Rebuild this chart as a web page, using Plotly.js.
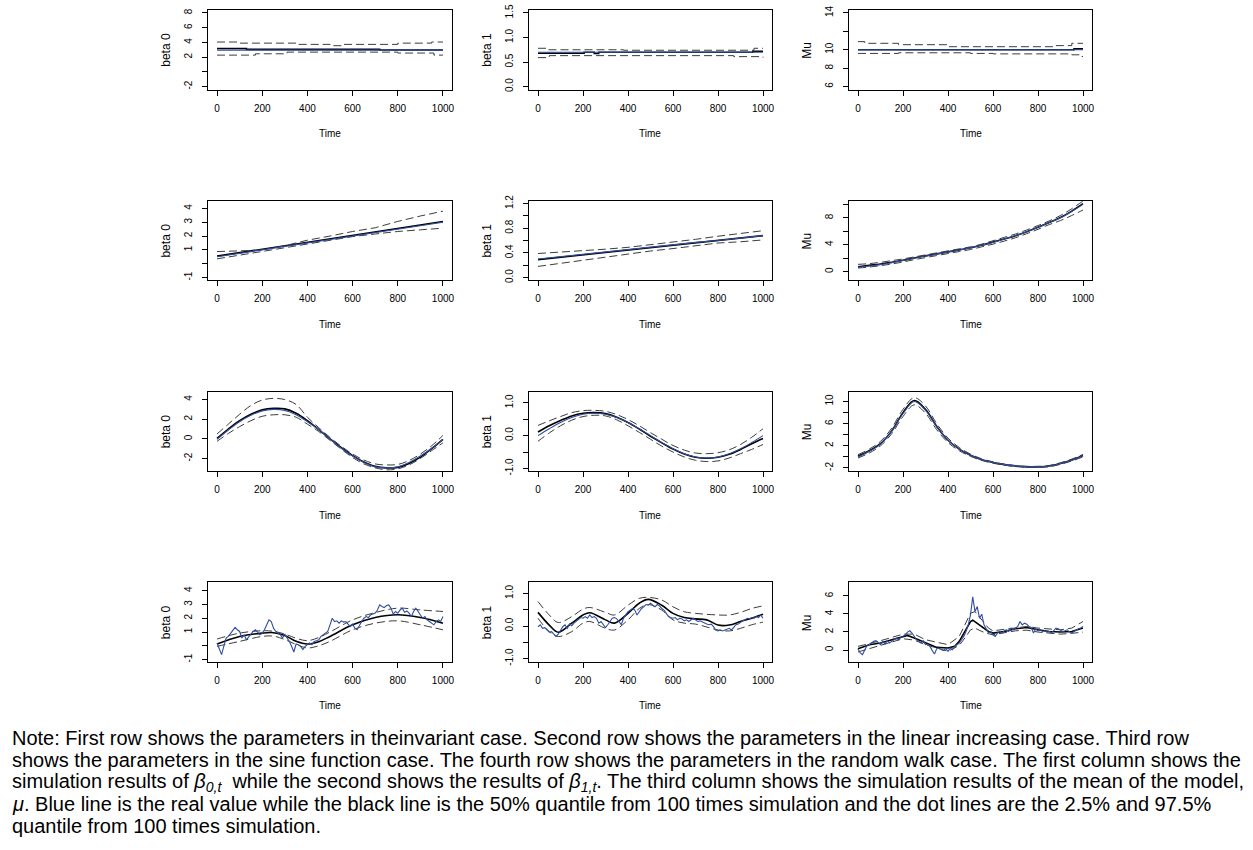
<!DOCTYPE html>
<html><head><meta charset="utf-8">
<script src="https://cdn.plot.ly/plotly-3.0.1.min.js"></script>
<style>html,body{margin:0;padding:0;background:#fff}#chart{width:1253px;height:850px}</style>
</head><body><div id="chart"></div>
<script>
// ---------- time grids ----------
const T11 = [0,100,200,300,400,500,600,700,800,900,1000];
const T21 = [0,50,100,150,200,250,300,350,400,450,500,550,600,650,700,750,800,850,900,950,1000];
const T101 = [0,10,20,30,40,50,60,70,80,90,100,110,120,130,140,150,160,170,180,190,200,210,220,230,240,250,260,270,280,290,300,310,320,330,340,350,360,370,380,390,400,410,420,430,440,450,460,470,480,490,500,510,520,530,540,550,560,570,580,590,600,610,620,630,640,650,660,670,680,690,700,710,720,730,740,750,760,770,780,790,800,810,820,830,840,850,860,870,880,890,900,910,920,930,940,950,960,970,980,990,1000];
const xTicks = [0,200,400,600,800,1000];

// ---------- Row 1: invariant case ----------
const b0inv_true_t = [0,1000];            const b0inv_true = [2.95,2.95];
const b0inv_med_t = [0,130,720,1000];     const b0inv_med = [3.18,3.05,2.97,2.97];
const b0inv_hi_t = [0,90,350,500,560,800,950,1000]; const b0inv_hi = [4.05,3.9,3.73,3.55,3.73,3.9,4.05,4.05];
const b0inv_lo_t = [0,170,310,800,960,1000];         const b0inv_lo = [2.27,2.45,2.68,2.55,2.27,2.27];

const b1inv_true_t = [0,1000];            const b1inv_true = [0.70,0.70];
const b1inv_med_t = [0,205,250,270,955,1000]; const b1inv_med = [0.68,0.70,0.675,0.70,0.72,0.72];
const b1inv_hi_t = [0,40,380,960,1000];   const b1inv_hi = [0.78,0.75,0.74,0.78,0.78];
const b1inv_lo_t = [0,50,870,1000];       const b1inv_lo = [0.59,0.63,0.61,0.59];

const muinv_true_t = [0,1000];            const muinv_true = [10.0,10.0];
const muinv_med_t = [0,960,1000];         const muinv_med = [10.0,10.1,10.1];
const muinv_hi_t = [0,30,180,400,880,950,1000]; const muinv_hi = [10.88,10.7,10.55,10.33,10.45,10.7,10.7];
const muinv_lo_t = [0,180,500,600,950,990,1000]; const muinv_lo = [9.6,9.67,9.6,9.55,9.45,9.27,9.27];

// ---------- Row 2: linear increasing case ----------
const b0lin_true = [0.5,0.75,1.0,1.25,1.5,1.75,2.0,2.25,2.5,2.75,3.0];
const b0lin_med  = [0.55,0.8,1.03,1.28,1.53,1.78,2.03,2.28,2.55,2.8,3.05];
const b0lin_hi   = [0.88,0.93,0.98,1.3,1.7,2.0,2.33,2.6,3.06,3.45,3.8];
const b0lin_lo   = [0.35,0.62,0.87,1.15,1.46,1.72,1.96,2.15,2.33,2.45,2.57];

const b1lin_true = [0.3,0.34,0.38,0.41,0.45,0.49,0.53,0.57,0.6,0.64,0.68];
const b1lin_med  = [0.29,0.33,0.37,0.41,0.45,0.49,0.53,0.56,0.6,0.64,0.68];
const b1lin_hi   = [0.39,0.41,0.44,0.46,0.49,0.53,0.57,0.62,0.67,0.71,0.76];
const b1lin_lo   = [0.18,0.23,0.28,0.33,0.39,0.43,0.47,0.51,0.56,0.58,0.61];

const mulin_true = [0.66,0.85,1.06,1.35,1.67,2.0,2.33,2.62,2.94,3.22,3.54,3.93,4.35,4.85,5.37,5.95,6.6,7.3,8.0,8.95,10.0];
const mulin_med  = [0.75,0.95,1.15,1.4,1.7,2.05,2.35,2.65,2.95,3.25,3.55,3.95,4.4,4.85,5.35,5.95,6.6,7.3,8.05,9.0,10.1];
const mulin_hi   = [1.1,1.2,1.4,1.65,1.9,2.2,2.5,2.8,3.1,3.4,3.7,4.1,4.6,5.1,5.6,6.2,6.85,7.55,8.35,9.35,10.5];
const mulin_lo   = [0.55,0.7,0.9,1.15,1.45,1.8,2.1,2.4,2.7,3.0,3.3,3.7,4.1,4.55,5.05,5.65,6.3,7.0,7.6,8.35,9.16];

// ---------- Row 3: sine function case ----------
const b0sin_true = [-0.05,0.9,1.75,2.4,2.85,3.0,2.9,2.45,1.75,0.95,0.0,-0.95,-1.75,-2.4,-2.85,-2.95,-2.85,-2.4,-1.75,-0.95,-0.05];
const b0sin_med  = [0.05,1.0,1.85,2.5,2.95,3.1,3.05,2.6,1.85,0.95,0.0,-0.9,-1.7,-2.35,-2.8,-2.95,-2.9,-2.5,-1.85,-1.0,-0.05];
const b0sin_hi   = [0.5,1.5,2.5,3.4,3.95,4.12,4.0,3.5,2.2,1.15,0.15,-0.75,-1.55,-2.15,-2.55,-2.65,-2.6,-2.2,-1.55,-0.7,0.35];
const b0sin_lo   = [-0.25,0.55,1.25,1.85,2.3,2.45,2.45,2.2,1.5,0.75,-0.15,-1.05,-1.9,-2.55,-2.95,-3.15,-3.05,-2.65,-2.0,-1.2,-0.4];

const b1sin_true = [0.0,0.21,0.4,0.55,0.65,0.68,0.65,0.55,0.4,0.21,0.0,-0.21,-0.4,-0.55,-0.65,-0.68,-0.65,-0.55,-0.4,-0.21,0.0];
const b1sin_med  = [0.11,0.3,0.46,0.6,0.68,0.7,0.67,0.56,0.4,0.2,-0.02,-0.22,-0.41,-0.56,-0.66,-0.69,-0.66,-0.57,-0.42,-0.25,-0.09];
const b1sin_hi   = [0.31,0.45,0.58,0.7,0.76,0.77,0.74,0.64,0.49,0.3,0.09,-0.11,-0.3,-0.44,-0.53,-0.55,-0.52,-0.43,-0.27,-0.05,0.21];
const b1sin_lo   = [-0.17,0.08,0.3,0.47,0.58,0.62,0.6,0.48,0.3,0.1,-0.11,-0.32,-0.5,-0.65,-0.75,-0.79,-0.77,-0.68,-0.55,-0.42,-0.27];

const musin_true = [0.0,1.0,2.3,4.6,7.8,10.0,8.4,5.4,3.0,1.4,0.3,-0.5,-1.0,-1.4,-1.6,-1.8,-1.8,-1.7,-1.2,-0.6,0.2];
const musin_med  = [0.1,1.1,2.4,4.7,8.0,10.2,8.6,5.5,3.0,1.4,0.3,-0.5,-1.0,-1.4,-1.65,-1.8,-1.8,-1.65,-1.2,-0.55,0.25];
const musin_hi   = [0.4,1.4,2.8,5.2,8.6,10.7,9.2,6.0,3.4,1.7,0.5,-0.35,-0.9,-1.3,-1.55,-1.7,-1.7,-1.55,-1.05,-0.4,0.45];
const musin_lo   = [-0.2,0.7,2.0,4.2,7.3,9.4,7.9,4.9,2.6,1.1,0.1,-0.65,-1.15,-1.5,-1.75,-1.9,-1.9,-1.8,-1.35,-0.75,0.0];

// ---------- Row 4: random walk case ----------
const b0rw_true = [0.2,-0.28,-0.64,-0.04,0.56,0.68,0.92,1.09,1.33,1.16,
  1.04,0.56,0.8,0.44,0.68,0.85,1.04,1.16,1.0,0.8,
  0.92,1.16,1.52,1.88,1.76,1.28,1.04,0.92,0.8,0.56,
  0.85,0.56,0.32,-0.04,-0.45,0.13,0.08,-0.04,-0.28,-0.04,
  0.08,0.2,0.08,0.32,0.37,0.44,0.68,0.8,0.92,1.04,
  1.52,2.0,1.76,1.81,1.64,1.81,1.72,1.76,1.57,1.4,
  1.57,1.28,1.16,1.52,1.76,2.0,2.12,2.05,2.25,2.3,
  2.37,2.6,2.97,2.85,2.77,2.92,2.97,2.73,2.3,2.49,
  2.37,2.6,2.73,2.44,2.53,2.37,2.12,2.49,2.73,2.49,
  2.25,2.0,2.12,1.88,1.76,1.64,1.52,1.76,1.88,1.76,
  2.12];
const b0rw_q_t = [0,100,200,250,300,350,400,450,500,600,700,800,900,1000];
const b0rw_med = [0.13,0.68,0.92,0.95,0.75,0.32,0.13,0.3,0.68,1.52,2.05,2.25,2.05,1.64];
const b0rw_hi  = [0.49,0.92,1.09,1.05,0.85,0.55,0.37,0.6,1.0,1.88,2.41,2.73,2.6,2.49];
const b0rw_lo  = [-0.04,0.32,0.68,0.7,0.45,0.1,-0.16,0.0,0.32,1.16,1.64,1.81,1.52,1.16];

const b1rw_true = [-0.02,0.04,-0.07,-0.05,-0.12,-0.19,-0.17,-0.25,-0.32,-0.25,
  -0.12,-0.02,0.04,-0.07,0.06,0.01,0.09,0.14,0.19,0.26,
  0.24,0.29,0.24,0.34,0.26,0.29,0.24,0.09,0.14,0.04,
  -0.05,0.04,0.14,0.24,0.26,0.22,0.14,0.04,0.24,0.36,
  0.44,0.49,0.54,0.49,0.34,0.44,0.54,0.59,0.66,0.64,
  0.7,0.64,0.59,0.66,0.62,0.54,0.49,0.39,0.29,0.26,
  0.24,0.26,0.19,0.24,0.22,0.16,0.19,0.14,0.19,0.24,
  0.19,0.14,0.16,0.12,0.09,0.06,0.04,0.06,-0.02,-0.12,
  -0.15,-0.12,-0.15,-0.12,-0.09,-0.07,-0.12,-0.05,0.04,0.06,
  0.12,0.16,0.19,0.24,0.22,0.26,0.24,0.29,0.26,0.34,
  0.24];
const b1rw_med_t = [0,50,90,150,200,230,300,340,400,450,490,550,600,650,700,750,800,850,900,950,1000];
const b1rw_med   = [0.42,0.03,-0.19,0.09,0.34,0.41,0.19,0.09,0.39,0.7,0.82,0.64,0.39,0.26,0.22,0.19,0.03,0.03,0.14,0.24,0.36];
const b1rw_q_t = [0,50,90,150,200,230,300,340,400,450,490,550,600,650,700,800,850,900,950,1000];
const b1rw_hi  = [0.75,0.34,0.11,0.29,0.52,0.57,0.42,0.34,0.64,0.85,0.88,0.8,0.59,0.44,0.39,0.34,0.34,0.42,0.54,0.62];
const b1rw_lo  = [0.24,-0.17,-0.32,-0.17,0.09,0.14,-0.07,-0.12,0.19,0.54,0.66,0.49,0.19,0.09,0.06,-0.12,-0.15,-0.07,0.04,0.12];

const murw_true = [0.15,-0.33,-0.51,0.04,0.51,0.59,0.77,0.96,1.03,0.77,
  0.59,0.96,0.66,1.03,0.77,0.96,1.14,1.32,1.14,1.4,
  1.51,1.69,1.99,2.13,1.88,1.51,1.14,0.96,0.77,1.03,
  0.59,0.66,0.4,-0.07,-0.44,0.15,0.22,0.04,-0.07,0.15,
  -0.15,0.22,0.04,0.4,0.59,0.77,1.14,1.51,2.06,2.79,
  3.9,5.9,4.26,4.82,3.53,3.97,2.79,2.24,1.88,2.06,
  1.69,1.51,1.88,2.06,1.88,2.13,2.24,2.06,2.43,2.24,
  2.43,2.61,3.16,2.79,2.98,2.87,2.61,2.5,1.88,2.35,
  2.13,2.24,2.06,2.13,1.99,2.06,1.88,2.13,2.43,2.35,
  2.24,2.06,2.13,2.24,1.99,1.88,2.06,2.24,2.35,2.43,
  2.61];
const murw_med_t = [0,50,100,150,200,220,250,300,350,400,430,450,480,500,510,530,550,580,600,650,700,750,800,850,900,950,1000];
const murw_med   = [0.15,0.59,0.77,1.14,1.51,1.62,1.32,0.77,0.29,0.22,0.4,0.96,2.24,3.16,3.31,2.98,2.61,2.06,1.88,2.06,2.35,2.5,2.24,2.06,1.99,2.06,2.43];
const murw_q_t = [0,100,200,250,300,400,450,480,500,520,550,580,600,700,750,800,900,950,1000];
const murw_hi  = [0.4,1.03,1.76,1.76,1.14,0.59,1.51,3.16,4.08,4.26,3.35,2.43,2.13,2.5,2.61,2.43,2.24,2.43,3.16];
const murw_lo  = [-0.22,0.51,1.25,1.1,0.59,-0.15,0.51,1.5,2.24,2.43,2.06,1.8,1.69,2.13,2.2,1.99,1.76,1.85,1.99];

// ---------- axis labels / ticks ----------
const yLabels = ['beta 0','beta 1','Mu'];
const xLabel = 'Time';
const noteLines = [
  'Note: First row shows the parameters in theinvariant case. Second row shows the parameters in the linear increasing case. Third row',
  'shows the parameters in the sine function case. The fourth row shows the parameters in the random walk case. The first column shows the',
  'simulation results of <i>β</i><sub><i>0,t</i></sub>  while the second shows the results of <i>β</i><sub><i>1,t</i></sub>. The third column shows the simulation results of the mean of the model,',
  '<i>μ</i>. Blue line is the real value while the black line is the 50% quantile from 100 times simulation and the dot lines are the 2.5% and 97.5%',
  'quantile from 100 times simulation.'
];

// ---------- panel table (built from the arrays above) ----------
// tv/tt: labelled ticks; mt: ticks drawn without a label
const panels = [
  {yr:[-2.4,8.4], tv:[-2,2,4,6,8], tt:['-2','2','4','6','8'], mt:[0], shape:'hv',
   tru:[b0inv_true_t,b0inv_true], med:[b0inv_med_t,b0inv_med], hi:[b0inv_hi_t,b0inv_hi], lo:[b0inv_lo_t,b0inv_lo]},
  {yr:[-0.06,1.56], tv:[0,0.5,1,1.5], tt:['0.0','0.5','1.0','1.5'], mt:[], shape:'hv',
   tru:[b1inv_true_t,b1inv_true], med:[b1inv_med_t,b1inv_med], hi:[b1inv_hi_t,b1inv_hi], lo:[b1inv_lo_t,b1inv_lo]},
  {yr:[5.68,14.32], tv:[6,8,10,14], tt:['6','8','10','14'], mt:[12], shape:'hv',
   tru:[muinv_true_t,muinv_true], med:[muinv_med_t,muinv_med], hi:[muinv_hi_t,muinv_hi], lo:[muinv_lo_t,muinv_lo]},
  {yr:[-1.2,4.55], tv:[-1,1,2,3,4], tt:['-1','1','2','3','4'], mt:[0], shape:'linear',
   tru:[T11,b0lin_true], med:[T11,b0lin_med], hi:[T11,b0lin_hi], lo:[T11,b0lin_lo]},
  {yr:[-0.045,1.245], tv:[0,0.4,0.8,1.2], tt:['0.0','0.4','0.8','1.2'], mt:[0.2,0.6,1.0], shape:'linear',
   tru:[T11,b1lin_true], med:[T11,b1lin_med], hi:[T11,b1lin_hi], lo:[T11,b1lin_lo]},
  {yr:[-1.27,10.53], tv:[0,4,8], tt:['0','4','8'], mt:[2,6,10], shape:'spline',
   tru:[T21,mulin_true], med:[T21,mulin_med], hi:[T21,mulin_hi], lo:[T21,mulin_lo]},
  {yr:[-3.28,4.81], tv:[-2,0,2,4], tt:['-2','0','2','4'], mt:[], shape:'spline',
   tru:[T21,b0sin_true], med:[T21,b0sin_med], hi:[T21,b0sin_hi], lo:[T21,b0sin_lo]},
  {yr:[-1.08,1.34], tv:[-1,0,1], tt:['-1.0','0.0','1.0'], mt:[-0.5,0.5], shape:'spline',
   tru:[T21,b1sin_true], med:[T21,b1sin_med], hi:[T21,b1sin_hi], lo:[T21,b1sin_lo]},
  {yr:[-2.57,11.8], tv:[-2,2,6,10], tt:['-2','2','6','10'], mt:[0,4,8], shape:'spline',
   tru:[T21,musin_true], med:[T21,musin_med], hi:[T21,musin_hi], lo:[T21,musin_lo]},
  {yr:[-1.17,4.6], tv:[-1,1,2,3,4], tt:['-1','1','2','3','4'], mt:[0], shape:'spline', trushape:'linear',
   tru:[T101,b0rw_true], med:[b0rw_q_t,b0rw_med], hi:[b0rw_q_t,b0rw_hi], lo:[b0rw_q_t,b0rw_lo]},
  {yr:[-1.1,1.34], tv:[-1,0,1], tt:['-1.0','0.0','1.0'], mt:[-0.5,0.5], shape:'spline', trushape:'linear',
   tru:[T101,b1rw_true], med:[b1rw_med_t,b1rw_med], hi:[b1rw_q_t,b1rw_hi], lo:[b1rw_q_t,b1rw_lo]},
  {yr:[-1.32,7.5], tv:[0,2,4,6], tt:['0','2','4','6'], mt:[], shape:'linear', trushape:'linear',
   tru:[T101,murw_true], med:[murw_med_t,murw_med], hi:[murw_q_t,murw_hi], lo:[murw_q_t,murw_lo]}
];

// ---------- geometry ----------
const W = 1253, H = 850;
const colX = [[208,452],[529,772],[849,1092]];
const rowTop = [10, 200.8, 391.6, 582.4];
const boxH = 79.5;
const FONT = 'Liberation Sans, Arial, sans-serif';
const BLUE = '#2f4ea0';

const data = [];
const layout = {
  width: W, height: H, margin:{l:0,r:0,t:0,b:0},
  paper_bgcolor:'#fff', plot_bgcolor:'#fff', showlegend:false,
  font:{family:FONT, size:10, color:'#000'},
  annotations: []
};

panels.forEach((p, k) => {
  const r = Math.floor(k/3), c = k%3;
  const id = k === 0 ? '' : String(k+1);
  const xa = 'x'+id, ya = 'y'+id;
  const [x0,x1] = colX[c];
  const top = rowTop[r], bot = top + boxH;
  layout['xaxis'+id] = {
    domain:[x0/W, x1/W], anchor: ya, range:[-40,1040],
    tickmode:'array', tickvals:xTicks, ticktext:xTicks.map(String), ticks:'outside', ticklen:5, tickcolor:'#000',
    showline:true, mirror:true, linecolor:'#000', linewidth:1, showgrid:false, zeroline:false,
    tickfont:{size:10, family:FONT}, ticklabelstandoff:4, fixedrange:true
  };
  const ya_def = {
    domain:[1-bot/H, 1-top/H], anchor: xa, range:p.yr,
    tickmode:'array', tickvals:p.tv, ticktext:p.tt, ticks:'outside', ticklen:5, tickcolor:'#000', tickangle:-90,
    showline:true, mirror:true, linecolor:'#000', linewidth:1, showgrid:false, zeroline:false,
    tickfont:{size:10, family:FONT}, ticklabelstandoff:6, fixedrange:true
  };
  if (p.mt.length) ya_def.minor = {tickmode:'array', tickvals:p.mt, ticks:'outside', ticklen:5, tickcolor:'#000', showgrid:false};
  layout['yaxis'+id] = ya_def;
  const qStyle = {color:'#3c3c3c', width:1, dash:'8px,4px', shape:p.shape};
  data.push({x:p.med[0], y:p.med[1], xaxis:xa, yaxis:ya, mode:'lines', line:{color:'#000', width:1.6, shape:p.shape}, hoverinfo:'skip'});
  data.push({x:p.hi[0], y:p.hi[1], xaxis:xa, yaxis:ya, mode:'lines', line:qStyle, hoverinfo:'skip'});
  data.push({x:p.lo[0], y:p.lo[1], xaxis:xa, yaxis:ya, mode:'lines', line:qStyle, hoverinfo:'skip'});
  data.push({x:p.tru[0], y:p.tru[1], xaxis:xa, yaxis:ya, mode:'lines', line:{color:BLUE, width:1.1, shape:p.trushape||p.shape}, hoverinfo:'skip'});
  layout.annotations.push({text:xLabel, xref:'paper', yref:'paper', x:(x0+x1)/2/W, y:1-(bot+44)/H,
    xanchor:'center', yanchor:'middle', showarrow:false, font:{size:10, family:FONT}});
  layout.annotations.push({text:yLabels[c], xref:'paper', yref:'paper', x:(x0-42)/W, y:1-(top+boxH/2)/H,
    xanchor:'center', yanchor:'middle', textangle:-90, showarrow:false, font:{size:12, family:FONT}});
});

noteLines.forEach((t, i) => {
  layout.annotations.push({text:t, xref:'paper', yref:'paper', x:10/W, y:1-(738+i*22)/H,
    xanchor:'left', yanchor:'middle', align:'left', showarrow:false, font:{size:20, family:FONT, color:'#000'}});
});

Plotly.newPlot('chart', data, layout, {staticPlot:true, displayModeBar:false});
</script></body></html>
